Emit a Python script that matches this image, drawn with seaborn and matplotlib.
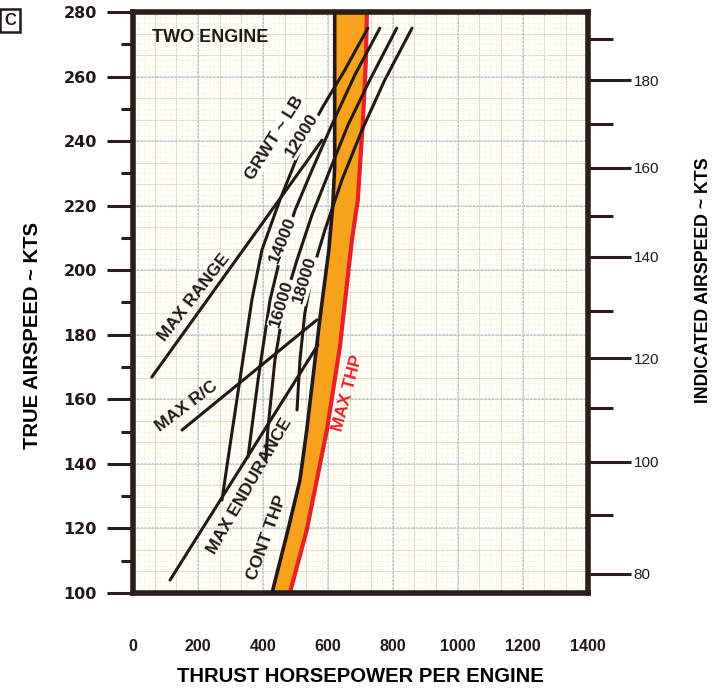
import numpy as np
import matplotlib
matplotlib.use("Agg")
import matplotlib.pyplot as plt
import seaborn as sns
from matplotlib.ticker import MultipleLocator, FixedLocator

sns.set_style("white")
plt.rcParams['font.family'] = ['Liberation Sans', 'DejaVu Sans']

# ---------------- data ----------------
x_major_ticks = [0, 200, 400, 600, 800, 1000, 1200, 1400]
y_major_ticks = [100, 120, 140, 160, 180, 200, 220, 240, 260, 280]

# right axis: indicated airspeed labels and their true-airspeed equivalents
ias_major_labels = [80, 100, 120, 140, 160, 180]
ias_major_tas = [105.9, 140.6, 172.8, 204.1, 231.7, 258.9]
ias_minor_labels = [90, 110, 130, 150, 170, 190]
ias_minor_tas = [124.2, 157.3, 187.4, 216.8, 245.3, 271.6]

cont_thp_hp = [428, 477, 514, 535, 575, 603, 615, 621, 621]
cont_thp_tas = [100, 119.5, 135, 150.5, 184.6, 206.3, 220, 232, 280]
max_thp_hp = [483, 535, 566, 597, 637, 674, 692, 708, 717, 720]
max_thp_tas = [100, 119.5, 135, 150.5, 176.2, 209.4, 221.7, 246.5, 265.1, 280]

gw12000_hp = [723, 652, 582, 514, 452, 397, 366, 329, 292, 274]
gw12000_tas = [275.0, 262.0, 250.2, 237.2, 221.7, 206.3, 190.8, 166.0, 141.2, 128.8]
gw14000_hp = [760, 683, 612, 551, 499, 459, 422, 385, 354]
gw14000_tas = [275.0, 260.5, 245.0, 231.0, 218.6, 206.3, 190.8, 166.0, 142.1]
gw16000_hp = [812, 729, 662, 606, 551, 505, 468, 437, 415, 409]
gw16000_tas = [275.0, 258.9, 245.0, 231.0, 217.1, 203.2, 190.8, 172.2, 150.5, 141.2]
gw18000_hp = [859, 775, 705, 643, 591, 554, 529, 514, 505]
gw18000_tas = [275.0, 258.9, 243.4, 227.9, 212.5, 200.1, 186.7, 172.2, 156.7]

max_range_hp = [58, 582]
max_range_tas = [166.9, 240.3]
max_rc_hp = [151, 566]
max_rc_tas = [150.5, 184.6]
max_end_hp = [114, 569]
max_end_tas = [104.0, 176.8]

# ---------------- figure ----------------
fig = plt.figure(figsize=(7.15, 6.9), dpi=100)
ax = fig.add_axes([0.186, 0.1406, 0.636, 0.842])
ax.set_facecolor('#fefefa')
ax.set_xlim(0, 1400)
ax.set_ylim(100, 280)

# graph-paper grid
for v in np.arange(0, 1400.1, 200 / 12):
    ax.axvline(v, color='#f1eba8', lw=0.5, ls=(0, (1, 2)), zorder=0)
for v in np.arange(100, 280.1, 20 / 12):
    ax.axhline(v, color='#f1eba8', lw=0.5, ls=(0, (1, 2)), zorder=0)
for v in np.arange(0, 1400.1, 200 / 3):
    ax.axvline(v, color='#e2da86', lw=0.8, ls=(0, (1, 1.5)), zorder=0)
    ax.axvline(v, color='#c3cfe8', lw=0.6, ls=(1.2, (1, 1.5)), zorder=0)
for v in np.arange(100, 280.1, 20 / 3):
    ax.axhline(v, color='#e2da86', lw=0.8, ls=(0, (1, 1.5)), zorder=0)
    ax.axhline(v, color='#c3cfe8', lw=0.6, ls=(1.2, (1, 1.5)), zorder=0)
for v in np.arange(0, 1400.1, 200):
    ax.axvline(v, color='#bcc4d8', lw=1.1, ls=(0, (1.5, 1)), zorder=0)
for v in np.arange(100, 280.1, 20):
    ax.axhline(v, color='#bcc4d8', lw=1.1, ls=(0, (1.5, 1)), zorder=0)

# orange band between continuous and max THP
band_x = np.concatenate([cont_thp_hp, max_thp_hp[::-1]])
band_y = np.concatenate([cont_thp_tas, max_thp_tas[::-1]])
ax.fill(band_x, band_y, color='#f7a21b', lw=0, zorder=1)

line_kw = dict(sort=False, estimator=None, legend=False, ax=ax)
sns.lineplot(x=max_thp_hp, y=max_thp_tas, color='#e8202a', lw=3, zorder=2, **line_kw)
sns.lineplot(x=cont_thp_hp, y=cont_thp_tas, color='#231815', lw=2.6, zorder=3, **line_kw)

black = '#231815'
for hp, tas in [(gw12000_hp, gw12000_tas), (gw14000_hp, gw14000_tas),
                (gw16000_hp, gw16000_tas), (gw18000_hp, gw18000_tas),
                (max_range_hp, max_range_tas), (max_rc_hp, max_rc_tas),
                (max_end_hp, max_end_tas)]:
    sns.lineplot(x=hp, y=tas, color=black, lw=2.2, zorder=3, **line_kw)

# annotations
fs = 12.5
tkw = dict(fontweight='bold', color=black, ha='center', va='center', zorder=5)
box = dict(facecolor='#fefefa', edgecolor='none', pad=0.6)
ax.text(58, 272.2, 'TWO ENGINE', fontsize=13, fontweight='bold', color=black,
        ha='left', va='center', zorder=5)
ax.text(188, 191.7, 'MAX RANGE', fontsize=fs, rotation=52, **tkw)
ax.text(166, 157.9, 'MAX R/C', fontsize=fs, rotation=37, **tkw)
ax.text(359, 133.0, 'MAX ENDURANCE', fontsize=fs, rotation=60, **tkw)
ax.text(412, 117.0, 'CONT THP', fontsize=fs, rotation=70, **tkw)
ax.text(661, 162.0, 'MAX THP', fontsize=fs, rotation=75, fontweight='bold',
        color='#e8202a', ha='center', va='center', zorder=5)
ax.text(437, 241.0, 'GRWT ~ LB', fontsize=fs, rotation=58, bbox=box, **tkw)
ax.text(520, 241.9, '12000', fontsize=fs, rotation=58, bbox=box, **tkw)
ax.text(461, 209.4, '14000', fontsize=fs, rotation=68, bbox=box, **tkw)
ax.text(458, 189.8, '16000', fontsize=fs, rotation=73, bbox=box, **tkw)
ax.text(529, 197.0, '18000', fontsize=fs, rotation=73, bbox=box, **tkw)

# spines and ticks
spine_c = '#2b1d1a'
for s in ax.spines.values():
    s.set_visible(True)
    s.set_color(spine_c)
    s.set_linewidth(4)

ax.xaxis.set_major_locator(FixedLocator(x_major_ticks))
ax.xaxis.set_minor_locator(MultipleLocator(100))
ax.yaxis.set_major_locator(FixedLocator(y_major_ticks))
ax.yaxis.set_minor_locator(MultipleLocator(10))
ax.tick_params(axis='x', which='major', direction='out', length=26, width=2.2,
               color=spine_c, labelsize=11.5, pad=7, labelcolor=black)
ax.tick_params(axis='x', which='minor', direction='out', length=15, width=2.2,
               color=spine_c)
ax.tick_params(axis='y', which='major', direction='out', length=19, width=2.2,
               color=spine_c, labelsize=11.5, pad=7, labelcolor=black)
ax.tick_params(axis='y', which='minor', direction='out', length=9, width=2.2,
               color=spine_c)
for lab in ax.get_xticklabels():
    lab.set_fontweight('bold')
for lab in ax.get_yticklabels():
    lab.set_fontweight('bold')
    lab.set_family(['DejaVu Sans'])

ax.set_xlabel('THRUST HORSEPOWER PER ENGINE', fontsize=14.6, fontweight='heavy',
              color='black')
ax.xaxis.set_label_coords(0.5, -0.128)
ax.set_ylabel('TRUE AIRSPEED ~ KTS', fontsize=14.6, fontweight='heavy',
              color='black')
ax.yaxis.set_label_coords(-0.2, 0.444)

ax2 = ax.twinx()
ax2.set_ylim(100, 280)
ax2.yaxis.set_major_locator(FixedLocator(ias_major_tas))
ax2.yaxis.set_minor_locator(FixedLocator(ias_minor_tas))
ax2.set_yticklabels([str(v) for v in ias_major_labels])
ax2.tick_params(axis='y', which='major', direction='out', length=31, width=2.2,
                color=spine_c, labelsize=11, pad=2, labelcolor=black)
ax2.tick_params(axis='y', which='minor', direction='out', length=18, width=2.2,
                color=spine_c)
for s in ax2.spines.values():
    s.set_visible(False)
ax2.set_ylabel('INDICATED AIRSPEED ~ KTS', fontsize=12.8, fontweight='heavy',
               color='black', rotation=90)
ax2.yaxis.set_label_coords(1.236, 0.539)

fig.text(0.006, 0.970, 'C', fontsize=12, fontweight='bold', color=black,
         ha='left', va='center',
         bbox=dict(facecolor='white', edgecolor=black, lw=1.8, pad=3))

fig.savefig('out.png', dpi=100)
